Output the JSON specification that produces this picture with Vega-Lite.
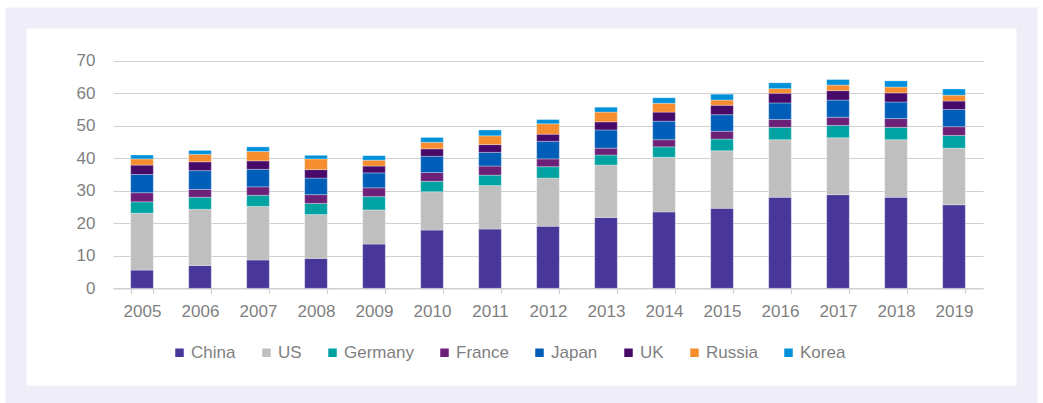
{
  "$schema": "https://vega.github.io/schema/vega-lite/v6.json",
  "width": 1011,
  "height": 378,
  "autosize": "none",
  "padding": {"left": 16, "top": 18, "right": 16, "bottom": 7},
  "background": "white",
  "config": {
    "font": "Liberation Sans",
    "view": {"stroke": "#efedf8", "strokeWidth": 21, "fill": "white"}
  },
  "data": {
    "values": [
      {"year": "2005", "country": "China", "value": 5.6}, {"year": "2005", "country": "US", "value": 17.5}, {"year": "2005", "country": "Germany", "value": 3.5}, {"year": "2005", "country": "France", "value": 2.8}, {"year": "2005", "country": "Japan", "value": 5.6}, {"year": "2005", "country": "UK", "value": 2.9}, {"year": "2005", "country": "Russia", "value": 1.9}, {"year": "2005", "country": "Korea", "value": 1.2},
      {"year": "2006", "country": "China", "value": 7.0}, {"year": "2006", "country": "US", "value": 17.3}, {"year": "2006", "country": "Germany", "value": 3.7}, {"year": "2006", "country": "France", "value": 2.4}, {"year": "2006", "country": "Japan", "value": 5.8}, {"year": "2006", "country": "UK", "value": 2.7}, {"year": "2006", "country": "Russia", "value": 2.3}, {"year": "2006", "country": "Korea", "value": 1.2},
      {"year": "2007", "country": "China", "value": 8.7}, {"year": "2007", "country": "US", "value": 16.5}, {"year": "2007", "country": "Germany", "value": 3.4}, {"year": "2007", "country": "France", "value": 2.6}, {"year": "2007", "country": "Japan", "value": 5.4}, {"year": "2007", "country": "UK", "value": 2.6}, {"year": "2007", "country": "Russia", "value": 2.9}, {"year": "2007", "country": "Korea", "value": 1.4},
      {"year": "2008", "country": "China", "value": 9.2}, {"year": "2008", "country": "US", "value": 13.5}, {"year": "2008", "country": "Germany", "value": 3.4}, {"year": "2008", "country": "France", "value": 2.7}, {"year": "2008", "country": "Japan", "value": 5.1}, {"year": "2008", "country": "UK", "value": 2.6}, {"year": "2008", "country": "Russia", "value": 3.3}, {"year": "2008", "country": "Korea", "value": 1.1},
      {"year": "2009", "country": "China", "value": 13.6}, {"year": "2009", "country": "US", "value": 10.5}, {"year": "2009", "country": "Germany", "value": 4.1}, {"year": "2009", "country": "France", "value": 2.7}, {"year": "2009", "country": "Japan", "value": 4.6}, {"year": "2009", "country": "UK", "value": 2.1}, {"year": "2009", "country": "Russia", "value": 1.8}, {"year": "2009", "country": "Korea", "value": 1.4},
      {"year": "2010", "country": "China", "value": 17.9}, {"year": "2010", "country": "US", "value": 11.8}, {"year": "2010", "country": "Germany", "value": 3.2}, {"year": "2010", "country": "France", "value": 2.7}, {"year": "2010", "country": "Japan", "value": 5.0}, {"year": "2010", "country": "UK", "value": 2.3}, {"year": "2010", "country": "Russia", "value": 2.0}, {"year": "2010", "country": "Korea", "value": 1.5},
      {"year": "2011", "country": "China", "value": 18.2}, {"year": "2011", "country": "US", "value": 13.4}, {"year": "2011", "country": "Germany", "value": 3.2}, {"year": "2011", "country": "France", "value": 2.8}, {"year": "2011", "country": "Japan", "value": 4.2}, {"year": "2011", "country": "UK", "value": 2.4}, {"year": "2011", "country": "Russia", "value": 2.7}, {"year": "2011", "country": "Korea", "value": 1.8},
      {"year": "2012", "country": "China", "value": 19.1}, {"year": "2012", "country": "US", "value": 14.8}, {"year": "2012", "country": "Germany", "value": 3.5}, {"year": "2012", "country": "France", "value": 2.4}, {"year": "2012", "country": "Japan", "value": 5.4}, {"year": "2012", "country": "UK", "value": 2.2}, {"year": "2012", "country": "Russia", "value": 3.2}, {"year": "2012", "country": "Korea", "value": 1.3},
      {"year": "2013", "country": "China", "value": 21.8}, {"year": "2013", "country": "US", "value": 16.1}, {"year": "2013", "country": "Germany", "value": 3.1}, {"year": "2013", "country": "France", "value": 2.1}, {"year": "2013", "country": "Japan", "value": 5.6}, {"year": "2013", "country": "UK", "value": 2.5}, {"year": "2013", "country": "Russia", "value": 3.0}, {"year": "2013", "country": "Korea", "value": 1.5},
      {"year": "2014", "country": "China", "value": 23.5}, {"year": "2014", "country": "US", "value": 16.8}, {"year": "2014", "country": "Germany", "value": 3.2}, {"year": "2014", "country": "France", "value": 2.2}, {"year": "2014", "country": "Japan", "value": 5.7}, {"year": "2014", "country": "UK", "value": 2.8}, {"year": "2014", "country": "Russia", "value": 2.7}, {"year": "2014", "country": "Korea", "value": 1.7},
      {"year": "2015", "country": "China", "value": 24.6}, {"year": "2015", "country": "US", "value": 17.7}, {"year": "2015", "country": "Germany", "value": 3.6}, {"year": "2015", "country": "France", "value": 2.4}, {"year": "2015", "country": "Japan", "value": 5.1}, {"year": "2015", "country": "UK", "value": 2.9}, {"year": "2015", "country": "Russia", "value": 1.6}, {"year": "2015", "country": "Korea", "value": 1.8},
      {"year": "2016", "country": "China", "value": 28.0}, {"year": "2016", "country": "US", "value": 17.7}, {"year": "2016", "country": "Germany", "value": 3.8}, {"year": "2016", "country": "France", "value": 2.4}, {"year": "2016", "country": "Japan", "value": 5.1}, {"year": "2016", "country": "UK", "value": 3.0}, {"year": "2016", "country": "Russia", "value": 1.4}, {"year": "2016", "country": "Korea", "value": 1.8},
      {"year": "2017", "country": "China", "value": 28.8}, {"year": "2017", "country": "US", "value": 17.5}, {"year": "2017", "country": "Germany", "value": 3.8}, {"year": "2017", "country": "France", "value": 2.5}, {"year": "2017", "country": "Japan", "value": 5.3}, {"year": "2017", "country": "UK", "value": 2.9}, {"year": "2017", "country": "Russia", "value": 1.7}, {"year": "2017", "country": "Korea", "value": 1.7},
      {"year": "2018", "country": "China", "value": 28.0}, {"year": "2018", "country": "US", "value": 17.7}, {"year": "2018", "country": "Germany", "value": 3.8}, {"year": "2018", "country": "France", "value": 2.7}, {"year": "2018", "country": "Japan", "value": 5.1}, {"year": "2018", "country": "UK", "value": 2.8}, {"year": "2018", "country": "Russia", "value": 1.8}, {"year": "2018", "country": "Korea", "value": 1.9},
      {"year": "2019", "country": "China", "value": 25.7}, {"year": "2019", "country": "US", "value": 17.4}, {"year": "2019", "country": "Germany", "value": 3.9}, {"year": "2019", "country": "France", "value": 2.7}, {"year": "2019", "country": "Japan", "value": 5.3}, {"year": "2019", "country": "UK", "value": 2.6}, {"year": "2019", "country": "Russia", "value": 1.8}, {"year": "2019", "country": "Korea", "value": 1.9}
    ]
  },
  "transform": [
    {"calculate": "indexof(['China','US','Germany','France','Japan','UK','Russia','Korea'], datum.country)", "as": "stackOrder"}
  ],
  "mark": {"type": "bar", "stroke": "white", "strokeWidth": 0.5, "strokeOpacity": 0.6},
  "encoding": {
    "x": {
      "field": "year",
      "type": "ordinal",
      "scale": {"range": [97, 967], "paddingInner": 0.61, "paddingOuter": 0.305},
      "axis": {
        "title": null,
        "offset": -107.7,
        "labelAngle": 0,
        "labelFontSize": 17,
        "labelColor": "#7f7f7f",
        "labelPadding": 10,
        "tickBand": "extent",
        "tickSize": 5,
        "tickColor": "#d0d0d0",
        "domainColor": "#d0d0d0",
        "domainWidth": 1.2,
        "tickWidth": 1.2,
        "grid": false
      }
    },
    "y": {
      "field": "value",
      "type": "quantitative",
      "stack": "zero",
      "scale": {"domain": [0, 70], "nice": false, "range": [270.3, 42.7]},
      "axis": {
        "title": null,
        "offset": -97,
        "values": [0, 10, 20, 30, 40, 50, 60, 70],
        "labelFontSize": 17,
        "labelColor": "#7f7f7f",
        "labelPadding": 18,
        "ticks": false,
        "domain": false,
        "grid": true,
        "gridColor": "#d0d0d0",
        "gridWidth": 1.2
      }
    },
    "color": {
      "field": "country",
      "type": "nominal",
      "scale": {
        "domain": ["China", "US", "Germany", "France", "Japan", "UK", "Russia", "Korea"],
        "range": ["#483698", "#bfbfbf", "#00a3a1", "#6d2077", "#005eb8", "#470a68", "#f68d2e", "#0091da"]
      },
      "legend": {
        "title": null,
        "orient": "none",
        "legendX": 155,
        "legendY": 326,
        "direction": "horizontal",
        "symbolType": "square",
        "symbolSize": 72,
        "symbolStrokeWidth": 0,
        "labelFontSize": 17,
        "labelColor": "#7f7f7f",
        "labelOffset": 3,
        "columnPadding": 22,
        "padding": 0
      }
    },
    "order": {"field": "stackOrder", "type": "quantitative", "sort": "ascending"}
  }
}
